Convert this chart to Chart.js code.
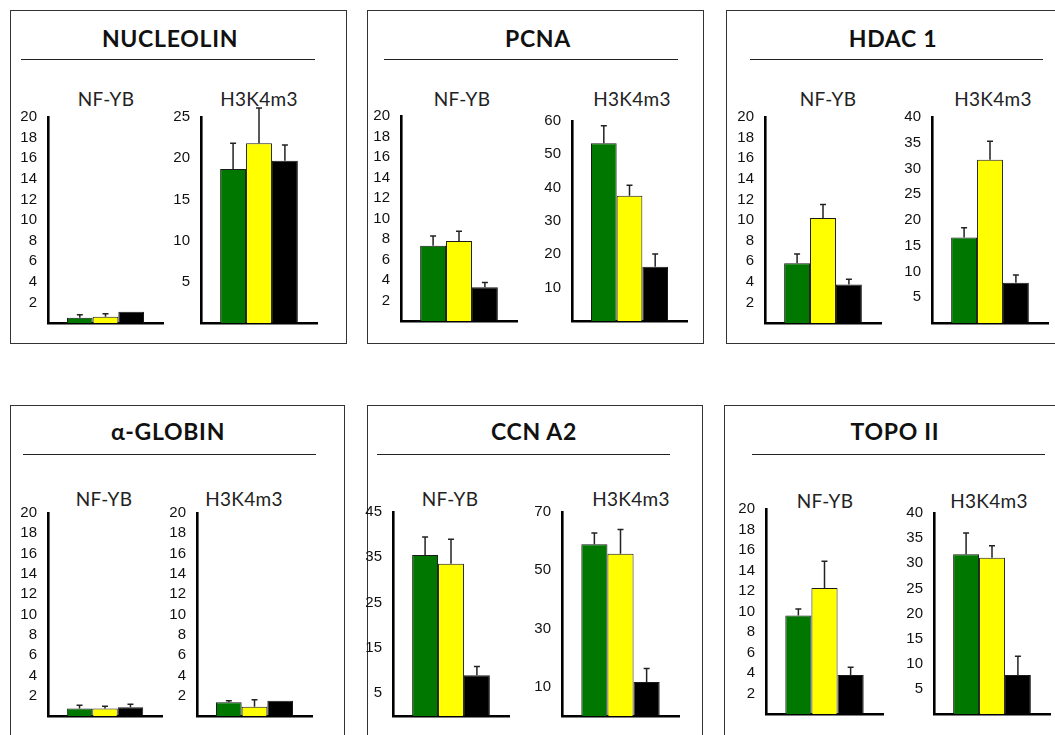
<!DOCTYPE html>
<html>
<head>
<meta charset="utf-8">
<script src="https://cdn.jsdelivr.net/npm/chart.js@4.4.1/dist/chart.umd.min.js"></script>
<style>
  body { margin: 0; background: #fff; }
  #root { position: relative; width: 1055px; height: 735px; overflow: hidden; background: #fff; }
  .box { position: absolute; border: 1.4px solid #333; box-sizing: border-box; }
  .title { position: absolute; transform: translate(-50%, -50%); font: 700 23px Lato, sans-serif; letter-spacing: 0.7px; color: #111; white-space: nowrap; }
  .rule { position: absolute; height: 0; border-top: 1.6px solid #222; }
  .sub { position: absolute; transform: translate(-50%, -50%); font: 400 19px Lato, sans-serif; letter-spacing: 0.3px; color: #222; white-space: nowrap; }
  canvas { position: absolute; }
</style>
</head>
<body>
<div id="root"></div>
<script>
const panelTitles = ["NUCLEOLIN", "PCNA", "HDAC 1", "α-GLOBIN", "CCN A2", "TOPO II"];
const antibodies = ["NF-YB", "H3K4m3"];
const conditions = ["Condition 1", "Condition 2", "Condition 3"];

// means and upper error for [NF-YB, H3K4m3], bars in order green, yellow, black
const nucleolinMeans = [[0.5, 0.6, 1.1], [18.7, 21.8, 19.7]];
const nucleolinErrors = [[0.3, 0.3, 0], [3.1, 4.3, 1.9]];
const nucleolinTicks = [[2, 4, 6, 8, 10, 12, 14, 16, 18, 20], [5, 10, 15, 20, 25]];

const pcnaMeans = [[7.35, 7.8, 3.3], [53.3, 37.6, 16.3]];
const pcnaErrors = [[0.95, 0.95, 0.45], [5.3, 3.1, 3.8]];
const pcnaTicks = [[2, 4, 6, 8, 10, 12, 14, 16, 18, 20], [10, 20, 30, 40, 50, 60]];

const hdac1Means = [[5.8, 10.2, 3.75], [16.6, 31.7, 7.8]];
const hdac1Errors = [[0.9, 1.3, 0.5], [1.9, 3.6, 1.5]];
const hdac1Ticks = [[2, 4, 6, 8, 10, 12, 14, 16, 18, 20], [5, 10, 15, 20, 25, 30, 35, 40]];

const globinMeans = [[0.75, 0.75, 0.85], [1.35, 0.9, 1.5]];
const globinErrors = [[0.3, 0.2, 0.3], [0.15, 0.7, 0]];
const globinTicks = [[2, 4, 6, 8, 10, 12, 14, 16, 18, 20], [2, 4, 6, 8, 10, 12, 14, 16, 18, 20]];

const ccna2Means = [[35.5, 33.6, 9], [58.9, 55.7, 11.7]];
const ccna2Errors = [[4, 5.4, 1.9], [3.9, 8.3, 4.6]];
const ccna2Ticks = [[5, 15, 25, 35, 45], [10, 30, 50, 70]];

const topo2Means = [[9.6, 12.3, 3.8], [31.8, 31.1, 7.75]];
const topo2Errors = [[0.65, 2.6, 0.75], [4.2, 2.4, 3.75]];
const topo2Ticks = [[2, 4, 6, 8, 10, 12, 14, 16, 18, 20], [5, 10, 15, 20, 25, 30, 35, 40]];

const allMeans = [nucleolinMeans, pcnaMeans, hdac1Means, globinMeans, ccna2Means, topo2Means];
const allErrors = [nucleolinErrors, pcnaErrors, hdac1Errors, globinErrors, ccna2Errors, topo2Errors];
const allTicks = [nucleolinTicks, pcnaTicks, hdac1Ticks, globinTicks, ccna2Ticks, topo2Ticks];

// page geometry
const barColors = ["#007800", "#ffff00", "#000000"];
const layout = [
  { box: [10, 10, 337, 334], title: [170, 38], rule: [21, 315, 59], sub: [[106, 98], [259, 98]], axes: [[48, 117, 323, 163], [201, 117, 323, 317]] },
  { box: [367, 10, 337, 334], title: [538, 38], rule: [384, 678, 59], sub: [[462, 98], [632, 98]], axes: [[401, 116, 321, 517], [572, 121, 321, 687]] },
  { box: [726, 10, 340, 334], title: [893, 38], rule: [750, 1043, 59], sub: [[828, 98], [993, 98]], axes: [[765, 117, 323, 881], [932, 117, 323, 1048]] },
  { box: [10, 405, 335, 340], title: [168, 431], rule: [23, 316, 454], sub: [[104, 498], [244, 498]], axes: [[48, 513, 716, 162], [197, 513, 716, 312]] },
  { box: [367, 405, 336, 340], title: [534, 431], rule: [377, 670, 454], sub: [[450, 498], [631, 498]], axes: [[393, 512, 716, 509], [562, 512, 716, 679]] },
  { box: [724, 405, 340, 340], title: [895, 431], rule: [752, 1045, 454], sub: [[825, 500], [989, 500]], axes: [[766, 509, 714, 883], [934, 513, 714, 1050]] },
];
const Y_W = 45, PAD_T = 12, PAD_B = 4, PAD_R = 2;

const root = document.getElementById("root");

function add(cls, css, text) {
  const el = document.createElement("div");
  el.className = cls;
  Object.assign(el.style, css);
  if (text) el.textContent = text;
  root.appendChild(el);
  return el;
}

const errorBars = {
  id: "errorBars",
  afterDatasetsDraw(chart) {
    const ctx = chart.ctx;
    const y = chart.scales.y;
    chart.data.datasets.forEach((ds, i) => {
      const err = ds.errors[0];
      if (!err) return;
      const bar = chart.getDatasetMeta(i).data[0];
      const y0 = y.getPixelForValue(ds.data[0]);
      const y1 = y.getPixelForValue(ds.data[0] + err);
      ctx.save();
      ctx.strokeStyle = "#222";
      ctx.lineWidth = 1.5;
      ctx.beginPath();
      ctx.moveTo(bar.x, y0);
      ctx.lineTo(bar.x, y1);
      ctx.moveTo(bar.x - 3, y1);
      ctx.lineTo(bar.x + 3, y1);
      ctx.stroke();
      ctx.restore();
    });
  },
};

layout.forEach((p, pi) => {
  add("box", { left: p.box[0] + "px", top: p.box[1] + "px", width: p.box[2] + "px", height: p.box[3] + "px" });
  add("title", { left: p.title[0] + "px", top: p.title[1] + "px" }, panelTitles[pi]);
  add("rule", { left: p.rule[0] + "px", top: p.rule[2] + "px", width: (p.rule[1] - p.rule[0]) + "px" });

  antibodies.forEach((ab, ai) => {
    add("sub", { left: p.sub[ai][0] + "px", top: p.sub[ai][1] + "px" }, ab);

    const [ax, at, abm, ar] = p.axes[ai];
    const canvas = document.createElement("canvas");
    canvas.width = Y_W + (ar - ax) + PAD_R;
    canvas.height = PAD_T + (abm - at) + PAD_B;
    canvas.style.left = (ax - Y_W) + "px";
    canvas.style.top = (at - PAD_T) + "px";
    root.appendChild(canvas);

    const ticks = allTicks[pi][ai];
    new Chart(canvas, {
      type: "bar",
      data: {
        labels: [ab],
        datasets: conditions.map((c, k) => ({
          label: c,
          data: [allMeans[pi][ai][k]],
          errors: [allErrors[pi][ai][k]],
          backgroundColor: barColors[k],
          borderColor: "#1a1a1a",
          borderWidth: 1,
        })),
      },
      options: {
        responsive: false,
        animation: false,
        devicePixelRatio: 1,
        categoryPercentage: 0.67,
        barPercentage: 1,
        layout: { padding: { top: PAD_T, right: PAD_R, bottom: PAD_B, left: 0 } },
        plugins: { legend: { display: false }, tooltip: { enabled: false } },
        scales: {
          x: {
            grid: { display: false },
            ticks: { display: false },
            border: { display: true, color: "#000", width: 2.6 },
            afterFit: (s) => { s.height = 0; s.paddingLeft = 0; s.paddingRight = 0; },
          },
          y: {
            min: 0,
            max: ticks[ticks.length - 1],
            grid: { display: false },
            border: { display: true, color: "#000", width: 2.6 },
            ticks: {
              color: "#111",
              padding: 3,
              font: { family: "'Liberation Sans', Arial, sans-serif", size: 15 },
            },
            afterBuildTicks: (s) => { s.ticks = ticks.map((v) => ({ value: v })); },
            afterFit: (s) => { s.width = Y_W; s.paddingTop = 0; s.paddingBottom = 0; },
          },
        },
      },
      plugins: [errorBars],
    });
  });
});
</script>
</body>
</html>
